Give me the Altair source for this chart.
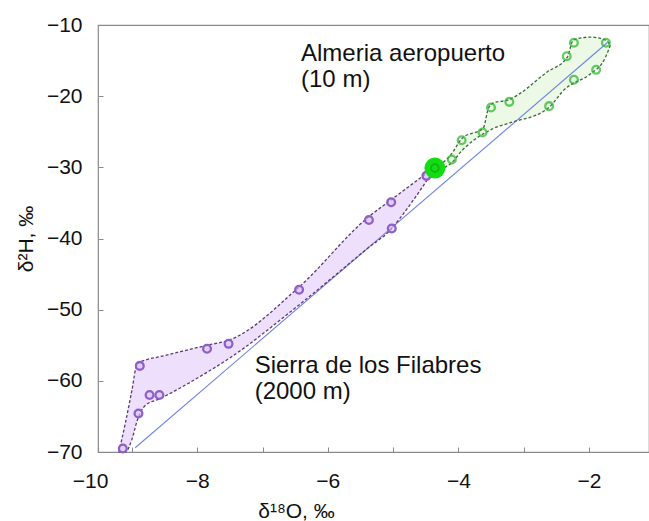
import altair as alt
import pandas as pd

# ---- data ----
# blue reference line (two end points)
line_x = [-8.95, -1.72]
line_y = [-69.4, -12.5]

# purple envelope (Sierra de los Filabres)
pur_env_x = [-9.20, -9.10, -9.00, -8.92, -8.80, -8.57, -7.85, -7.52, -6.45, -5.38, -5.02, -4.89, -4.48, -4.38]
pur_env_up = [-70.0, -65.9, -61.3, -57.6, -57.1, -56.6, -55.0, -54.3, -46.9, -37.0, -34.5, -33.6, -30.8, -30.1]
pur_env_lo = [-70.0, -70.0, -68.2, -65.6, -63.5, -62.5, -58.8, -56.9, -49.4, -41.3, -38.6, -37.1, -31.8, -30.4]

# green envelope (Almeria aeropuerto)
grn_env_x = [-4.36, -4.12, -3.94, -3.62, -3.54, -3.48, -3.23, -2.64, -2.33, -2.24, -1.98, -1.75, -1.67]
grn_env_up = [-30.1, -28.3, -25.9, -24.5, -21.7, -21.0, -20.5, -16.6, -14.5, -12.1, -11.7, -12.1, -12.8]
grn_env_lo = [-30.4, -29.5, -27.6, -25.3, -24.9, -24.6, -23.8, -21.8, -18.7, -18.2, -16.9, -14.6, -12.8]

# samples
pur_x = [-4.49, -5.03, -5.37, -5.02, -6.44, -7.85, -7.52, -8.88, -8.73, -8.58, -8.90, -9.14]
pur_y = [-31.2, -34.9, -37.4, -38.6, -47.2, -55.5, -54.8, -57.9, -62.0, -62.0, -64.6, -69.5]
grn_x = [-2.23, -1.74, -2.34, -1.89, -2.23, -3.22, -3.50, -2.61, -3.63, -3.95, -4.10]
grn_y = [-12.5, -12.5, -14.4, -16.3, -17.7, -20.8, -21.6, -21.4, -25.1, -26.2, -28.9]
main_x = [-4.36]
main_y = [-30.1]

# annotations
ann_text = ["Almeria aeropuerto\n(10 m)", "Sierra de los Filabres\n(2000 m)"]
ann_x = [-6.41, -7.12]
ann_y = [-15.1, -58.9]

x_ticks = [-9.52, -9, -8, -7, -6, -5, -4, -3, -2]
y_ticks = [-70, -60, -50, -40, -30, -20, -10]

FONT = "Liberation Sans"

# ---- tables ----
line_df = pd.DataFrame({"x": line_x, "y": line_y})
pur_env = pd.DataFrame({"x": pur_env_x, "y": pur_env_lo, "y2": pur_env_up})
grn_env = pd.DataFrame({"x": grn_env_x, "y": grn_env_lo, "y2": grn_env_up})
pur_out = pd.concat([
    pd.DataFrame({"x": pur_env_x, "y": pur_env_up, "side": "up"}),
    pd.DataFrame({"x": pur_env_x, "y": pur_env_lo, "side": "lo"}),
])
grn_out = pd.concat([
    pd.DataFrame({"x": grn_env_x, "y": grn_env_up, "side": "up"}),
    pd.DataFrame({"x": grn_env_x, "y": grn_env_lo, "side": "lo"}),
])
pur_pts = pd.DataFrame({"x": pur_x, "y": pur_y})
grn_pts = pd.DataFrame({"x": grn_x, "y": grn_y})
main_pt = pd.DataFrame({"x": main_x, "y": main_y})
ann_df = pd.DataFrame({"x": ann_x, "y": ann_y, "t": ann_text})

xs = alt.Scale(domain=[-9.52, -1.08], nice=False, zero=False)
ys = alt.Scale(domain=[-70, -10], nice=False, zero=False)

xaxis = alt.Axis(
    values=x_ticks, title="δ¹⁸O, ‰", grid=False, domain=False,
    tickSize=5, tickColor="#8a8a8a", tickWidth=1, offset=-5,
    labelExpr="datum.value < -9.4 ? '−10' : (datum.value % 2 == 0 ? datum.label : '')",
    labelOffset={"condition": {"test": "datum.value < -9.4", "value": -8}, "value": 0},
    labelFont=FONT, labelFontSize=21, labelColor="#111111", labelPadding=18,
    labelOverlap=False, labelBound=False, labelFlush=False,
    titleFont=FONT, titleFontSize=21, titleFontWeight="normal", titleColor="#111111",
    titleX=198, titleY=70, titleBaseline="alphabetic", titleAlign="center",
)
yaxis = alt.Axis(
    values=y_ticks, title="δ²H, ‰", grid=False, domain=False,
    tickSize=5, tickColor="#8a8a8a", tickWidth=1, offset=-5,
    labelFont=FONT, labelFontSize=21, labelColor="#111111", labelPadding=16,
    labelOverlap=False, labelBound=False, labelFlush=False,
    titleFont=FONT, titleFontSize=21, titleFontWeight="normal", titleColor="#111111",
    titlePadding=10,
)

def X(f="x"):
    return alt.X(f, type="quantitative", scale=xs, axis=xaxis)

def Y(f="y"):
    return alt.Y(f, type="quantitative", scale=ys, axis=yaxis)

pur_area = alt.Chart(pur_env).mark_area(color="#eedffc", opacity=1, interpolate="monotone").encode(
    x=X(), y=Y(), y2="y2")
grn_area = alt.Chart(grn_env).mark_area(color="#ecf9e6", opacity=1, interpolate="monotone").encode(
    x=X(), y=Y(), y2="y2")

blue = alt.Chart(line_df).mark_line(color="#6f84e6", strokeWidth=1.1).encode(x=X(), y=Y())

pur_line = alt.Chart(pur_out).mark_line(
    color="#5b3a70", strokeWidth=1.3, strokeDash=[3, 2], interpolate="monotone"
).encode(x=X(), y=Y(), detail="side:N")
grn_line = alt.Chart(grn_out).mark_line(
    color="#3d6a3d", strokeWidth=1.3, strokeDash=[3, 2], interpolate="monotone"
).encode(x=X(), y=Y(), detail="side:N")

pur_mark = alt.Chart(pur_pts).mark_point(
    shape="circle", filled=False, stroke="#8d60c8", strokeWidth=2.3, size=60, fill="#d9c4f2", fillOpacity=0.6
).encode(x=X(), y=Y())
grn_mark = alt.Chart(grn_pts).mark_point(
    shape="circle", filled=False, stroke="#27b327", strokeWidth=2.3, size=60
).encode(x=X(), y=Y())
main_big = alt.Chart(main_pt).mark_point(
    shape="circle", filled=True, color="#11dd11", opacity=1, size=440
).encode(x=X(), y=Y())
main_inner = alt.Chart(main_pt).mark_point(
    shape="circle", filled=False, stroke="#1a9a1a", strokeWidth=1.6, size=60
).encode(x=X(), y=Y())

ann = alt.Chart(ann_df).mark_text(
    align="left", baseline="alphabetic", font=FONT, fontSize=24, color="#111111",
    lineBreak="\n", lineHeight=26
).encode(x=X(), y=Y(), text="t:N")

chart = alt.layer(
    pur_area, grn_area, blue, pur_line, grn_line, pur_mark, grn_mark, main_big, main_inner, ann
).properties(
    width=551, height=427,
    autosize=alt.AutoSizeParams(type="none"),
    padding={"left": 98, "top": 25, "right": 0, "bottom": 69},
    background="white",
).configure_view(stroke="#8a8a8a", strokeWidth=1.2)

chart.save("out.html", embed_options={"renderer": "svg", "actions": False})
